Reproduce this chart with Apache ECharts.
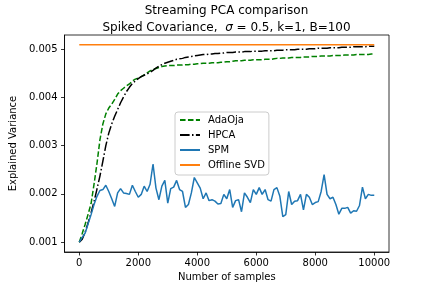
<!DOCTYPE html>
<html>
<head>
<meta charset="utf-8">
<script src="https://cdn.jsdelivr.net/npm/echarts@6/dist/echarts.min.js"></script>
<style>html,body{margin:0;padding:0;background:#fff}#c{width:432px;height:288px}</style>
</head>
<body>
<div id="c"></div>
<script>
// Number of samples (x), every 100
const samples = [];
for (let i = 0; i <= 100; i++) samples.push(i * 100);

const adaOja = [
0.00100,0.00118,0.00137,0.00158,0.00180,0.00220,0.00263,0.00312,0.00345,0.00366,
0.00378,0.00386,0.00396,0.00407,0.00414,0.00419,0.00424,0.00428,0.00434,0.00438,
0.00440,0.00443,0.00447,0.00451,0.00455,0.00458,0.00460,0.00462,0.00464,0.00465,
0.00466,0.00466,0.00466,0.00467,0.00467,0.00467,0.00468,0.00468,0.00469,0.00469,
0.00470,0.00470,0.00471,0.00471,0.00471,0.00472,0.00472,0.00472,0.00473,0.00473,
0.00474,0.00474,0.00475,0.00476,0.00476,0.00476,0.00477,0.00477,0.00477,0.00478,
0.00478,0.00478,0.00478,0.00479,0.00479,0.00479,0.00480,0.00481,0.00481,0.00482,
0.00482,0.00482,0.00483,0.00483,0.00483,0.00483,0.00484,0.00484,0.00484,0.00485,
0.00485,0.00485,0.00486,0.00486,0.00486,0.00486,0.00487,0.00487,0.00487,0.00487,
0.00488,0.00488,0.00488,0.00488,0.00489,0.00489,0.00489,0.00489,0.00489,0.00490,
0.00490];

const hpca = [
0.00100,0.00106,0.00121,0.00140,0.00161,0.00184,0.00210,0.00237,0.00268,0.00300,
0.00326,0.00345,0.00361,0.00375,0.00389,0.00401,0.00412,0.00421,0.00429,0.00434,
0.00439,0.00443,0.00446,0.00449,0.00452,0.00456,0.00461,0.00465,0.00468,0.00471,
0.00473,0.00475,0.00477,0.00479,0.00480,0.00481,0.00483,0.00484,0.00485,0.00486,
0.00487,0.00488,0.00489,0.00489,0.00490,0.00490,0.00491,0.00491,0.00492,0.00492,
0.00493,0.00493,0.00493,0.00494,0.00494,0.00494,0.00495,0.00495,0.00495,0.00496,
0.00496,0.00496,0.00496,0.00497,0.00497,0.00497,0.00497,0.00498,0.00498,0.00498,
0.00499,0.00499,0.00499,0.00499,0.00500,0.00500,0.00500,0.00500,0.00501,0.00501,
0.00501,0.00502,0.00502,0.00502,0.00502,0.00503,0.00503,0.00503,0.00503,0.00504,
0.00504,0.00504,0.00504,0.00505,0.00505,0.00505,0.00505,0.00505,0.00506,0.00506,
0.00506];

const spm = [
0.00100,0.00110,0.00119,0.00138,0.00157,0.00178,0.00195,0.00207,0.00209,0.00218,
0.00205,0.00190,0.00174,0.00202,0.00211,0.00202,0.00201,0.00199,0.00218,0.00205,
0.00193,0.00199,0.00216,0.00205,0.00220,0.00262,0.00212,0.00188,0.00216,0.00228,
0.00181,0.00211,0.00214,0.00228,0.00209,0.00205,0.00172,0.00178,0.00202,0.00234,
0.00223,0.00212,0.00190,0.00202,0.00186,0.00188,0.00185,0.00179,0.00180,0.00199,
0.00190,0.00209,0.00172,0.00186,0.00188,0.00163,0.00202,0.00193,0.00182,0.00209,
0.00199,0.00213,0.00199,0.00209,0.00188,0.00185,0.00209,0.00213,0.00195,0.00153,
0.00157,0.00205,0.00178,0.00185,0.00186,0.00199,0.00167,0.00199,0.00193,0.00178,
0.00182,0.00184,0.00205,0.00240,0.00199,0.00190,0.00193,0.00178,0.00158,0.00170,
0.00170,0.00172,0.00160,0.00165,0.00164,0.00176,0.00214,0.00190,0.00199,0.00197,
0.00197];

const offlineX = [0, 10000];
const offlineSVD = [0.00509, 0.00509];

const xTicks = [0, 2000, 4000, 6000, 8000, 10000];
const yTicks = [0.001, 0.002, 0.003, 0.004, 0.005];

const pair = (xs, ys) => xs.map((x, i) => [x, ys[i]]);

const FONT = 'DejaVu Sans';
const chart = echarts.init(document.getElementById('c'), null, {renderer: 'canvas'});
chart.setOption({
  animation: false,
  backgroundColor: '#ffffff',
  textStyle: {fontFamily: FONT},
  title: [
    {text: 'Streaming PCA comparison', left: 221.5, top: 0, textAlign: 'center',
     textStyle: {fontFamily: FONT, fontSize: 12, fontWeight: 'normal', color: '#000', lineHeight: 12}},
    {text: 'Spiked Covariance,  {i|σ} = 0.5, k=1, B=100', left: 221.5, top: 17, textAlign: 'center',
     textStyle: {fontFamily: FONT, fontSize: 12, fontWeight: 'normal', color: '#000', lineHeight: 12,
       rich: {i: {fontFamily: FONT, fontSize: 12, fontStyle: 'italic', color: '#000'}}}}
  ],
  grid: {left: 54, right: 43, top: 35, bottom: 36, show: true, borderColor: '#000', borderWidth: 0.8, backgroundColor: 'transparent'},
  legend: {
    orient: 'vertical', left: 175, top: 112,
    itemWidth: 20, itemHeight: 10, itemGap: 5,
    padding: [3, 4, 5, 4],
    backgroundColor: 'rgba(255,255,255,0.8)', borderColor: '#cccccc', borderWidth: 1, borderRadius: 3,
    itemStyle: {opacity: 0},
    textStyle: {fontFamily: FONT, fontSize: 10, color: '#000', padding: [0, 0, 0, 3]},
    data: ['AdaOja', 'HPCA', 'SPM', 'Offline SVD']
  },
  xAxis: {
    type: 'value', min: -500, max: 10500,
    name: 'Number of samples', nameLocation: 'middle', nameGap: 19,
    nameTextStyle: {fontFamily: FONT, fontSize: 10, color: '#000'},
    splitLine: {show: false},
    axisLine: {show: true, onZero: false, lineStyle: {color: '#000', width: 0.8}},
    axisTick: {show: true, length: 3.5, lineStyle: {color: '#000', width: 0.8}, customValues: xTicks},
    axisLabel: {fontFamily: FONT, fontSize: 10, color: '#000', margin: 6, customValues: xTicks,
      formatter: v => String(Math.round(v))}
  },
  yAxis: {
    type: 'value', min: 0.0007955, max: 0.0052945,
    name: 'Explained Variance', nameLocation: 'middle', nameGap: 40,
    nameTextStyle: {fontFamily: FONT, fontSize: 10, color: '#000'},
    splitLine: {show: false},
    axisLine: {show: true, onZero: false, lineStyle: {color: '#000', width: 0.8}},
    axisTick: {show: true, length: 3.5, lineStyle: {color: '#000', width: 0.8}, customValues: yTicks},
    axisLabel: {fontFamily: FONT, fontSize: 10, color: '#000', margin: 7, customValues: yTicks,
      formatter: v => v.toFixed(3)}
  },
  series: [
    {name: 'AdaOja', type: 'line', data: pair(samples, adaOja), symbol: 'none', showSymbol: false,
     lineStyle: {color: '#008000', width: 1.5, type: [5.55, 2.4]}, itemStyle: {color: '#008000'}},
    {name: 'HPCA', type: 'line', data: pair(samples, hpca), symbol: 'none', showSymbol: false,
     lineStyle: {color: '#000000', width: 1.5, type: [9.6, 2.4, 1.5, 2.4]}, itemStyle: {color: '#000000'}},
    {name: 'SPM', type: 'line', data: pair(samples, spm), symbol: 'none', showSymbol: false,
     lineStyle: {color: '#1f77b4', width: 1.5}, itemStyle: {color: '#1f77b4'}},
    {name: 'Offline SVD', type: 'line', data: pair(offlineX, offlineSVD), symbol: 'none', showSymbol: false,
     lineStyle: {color: '#ff7f0e', width: 1.5}, itemStyle: {color: '#ff7f0e'}}
  ]
});
</script>
</body>
</html>
